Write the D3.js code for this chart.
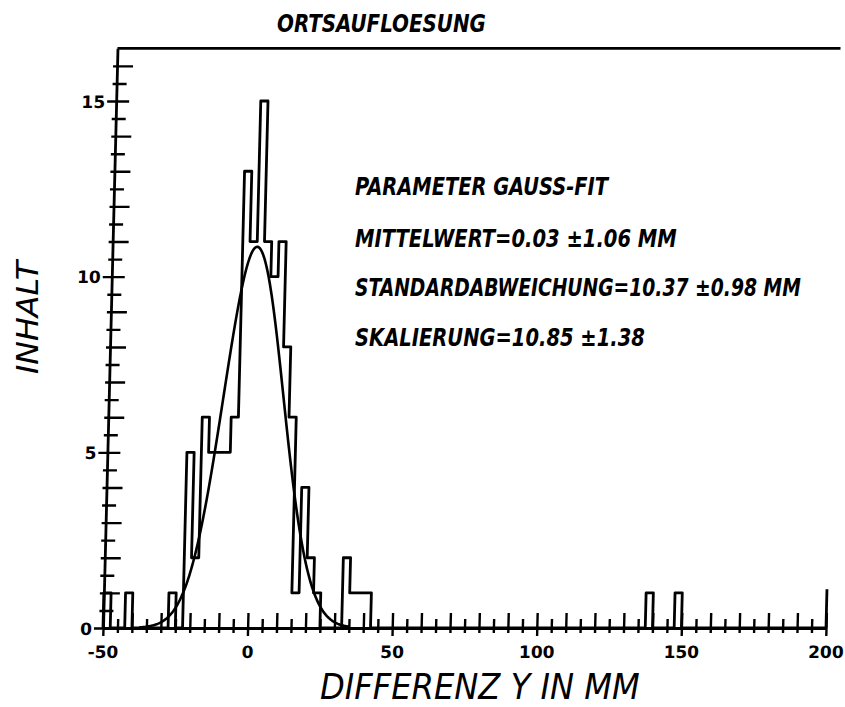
<!DOCTYPE html>
<html>
<head>
<meta charset="utf-8">
<script src="https://cdn.jsdelivr.net/npm/d3@7"></script>
<style>
    body { margin: 0; background: #fff; }
    svg { display: block; }
    .hand-text { font-family: 'DejaVu Sans Condensed', 'DejaVu Sans', sans-serif; font-weight: bold; font-style: italic; fill: #000; }
    .axis-title { font-weight: normal; }
    .tick-label { font-family: 'DejaVu Sans', sans-serif; font-weight: bold; font-size: 17px; fill: #000; }
</style>
</head>
<body>
<div id="chart"></div>
<script>
// histogram bins (left edge, entries), bin width 2.5 mm
const binLeft  = [-50, -42.5, -27.5, -22.5, -20, -17.5, -15, -12.5, -10, -7.5, -5, -2.5, 0, 2.5, 5, 7.5, 10, 12.5, 15, 17.5, 20, 22.5, 32.5, 35, 37.5, 40, 137.5, 147.5];
const binCount = [1, 1, 1, 5, 2, 6, 5, 5, 5, 6, 13, 11, 15, 11, 10, 11, 8, 6, 1, 4, 2, 1, 2, 1, 1, 1, 1, 1];
const binWidth = 2.5;

const xTickLabels = [-50, 0, 50, 100, 150, 200];
const yTickLabels = [0, 5, 10, 15];

// gauss fit
const fitMean = 0.03;
const fitSigma = 10.37;
const fitScale = 10.85;
const fitRange = [-37.5, 35];

const titleText = 'ORTSAUFLOESUNG';
const xTitle = 'DIFFERENZ Y IN MM';
const yTitle = 'INHALT';
const paramLines = ['PARAMETER GAUSS-FIT', 'MITTELWERT=0.03 \u00b11.06 MM', 'STANDARDABWEICHUNG=10.37 \u00b10.98 MM', 'SKALIERUNG=10.85 \u00b11.38'];

function GaussHisto() {
    let vis = this;
    vis.init();
}

GaussHisto.prototype.init = function() {
    let vis = this;
    vis.width = 845;
    vis.height = 707;
    vis.skew = 0.025; // scanned page is slightly sheared

    vis.svg = d3.select('#chart').append('svg')
        .attr('width', vis.width)
        .attr('height', vis.height);

    vis.x = d3.scaleLinear().domain([-50, 200]).range([103, 826]);
    vis.y = d3.scaleLinear().domain([0, 16.5]).range([628, 48.3]);

    let base = vis.y(0);
    vis.plot = vis.svg.append('g')
        .attr('transform', `matrix(1,0,${-vis.skew},1,${vis.skew * base},0)`);

    vis.drawAxes();
    vis.drawHisto();
    vis.drawFit();
    vis.drawText();
}

GaussHisto.prototype.drawAxes = function() {
    let vis = this;
    let lw = 2.8;

    // x axis
    let xAxis = d3.axisBottom(vis.x)
        .tickValues(d3.range(-50, 201, 5))
        .tickSizeOuter(0)
        .tickFormat(d => xTickLabels.includes(d) ? d : '');

    let gx = vis.plot.append('g')
        .attr('transform', `translate(0,${vis.y(0)})`)
        .call(xAxis);
    gx.select('.domain').attr('stroke-width', lw);
    gx.selectAll('.tick line')
        .attr('stroke-width', 2.4)
        .attr('y1', d => d % 50 === 0 ? 8 : 5)
        .attr('y2', d => d % 10 === 0 ? -15 : -9);
    gx.selectAll('.tick text')
        .attr('class', 'tick-label')
        .attr('y', 30)
        .attr('dy', null);

    // y axis
    let yAxis = d3.axisLeft(vis.y)
        .tickValues(d3.range(0, 16.5, 0.5))
        .tickSizeOuter(0)
        .tickFormat(d => yTickLabels.includes(d) ? d : '');

    let gy = vis.plot.append('g')
        .attr('transform', `translate(${vis.x(-50)},0)`)
        .call(yAxis);
    gy.select('.domain').attr('stroke-width', lw);
    gy.selectAll('.tick line')
        .attr('stroke-width', 2.4)
        .attr('x1', d => d % 5 === 0 ? -9 : -4)
        .attr('x2', d => d % 5 === 0 ? 13 : (d % 1 === 0 ? 16 : 10));
    gy.selectAll('.tick text')
        .attr('class', 'tick-label')
        .attr('x', -11)
        .attr('dy', '0.36em');

    // top frame line and short right edge
    vis.plot.append('line')
        .attr('x1', vis.x(-50)).attr('x2', vis.x(200))
        .attr('y1', vis.y(16.5)).attr('y2', vis.y(16.5))
        .attr('stroke', '#000').attr('stroke-width', lw);
    vis.plot.append('line')
        .attr('x1', vis.x(200)).attr('x2', vis.x(200))
        .attr('y1', vis.y(0)).attr('y2', vis.y(1.1))
        .attr('stroke', '#000').attr('stroke-width', lw);
}

GaussHisto.prototype.drawHisto = function() {
    let vis = this;

    // outline as a step line, gaps between bins go back to zero
    let pts = [[-50, 0]];
    let cur = -50;
    binLeft.forEach((left, i) => {
        if (left > cur) pts.push([cur, 0]);
        pts.push([left, binCount[i]]);
        cur = left + binWidth;
    });
    pts.push([cur, 0]);
    pts.push([200, 0]);

    let line = d3.line()
        .x(d => vis.x(d[0]))
        .y(d => vis.y(d[1]))
        .curve(d3.curveStepAfter);

    vis.plot.append('path')
        .datum(pts)
        .attr('d', line)
        .attr('fill', 'none')
        .attr('stroke', '#000')
        .attr('stroke-width', 2.8)
        .attr('stroke-linejoin', 'round');
}

GaussHisto.prototype.drawFit = function() {
    let vis = this;
    let xs = d3.range(fitRange[0], fitRange[1] + 0.01, 0.25);
    let gauss = v => fitScale * Math.exp(-((v - fitMean) ** 2) / (2 * fitSigma * fitSigma));

    vis.plot.append('path')
        .datum(xs)
        .attr('d', d3.line().x(d => vis.x(d)).y(d => vis.y(gauss(d))))
        .attr('fill', 'none')
        .attr('stroke', '#000')
        .attr('stroke-width', 2.6);
}

// squeeze a text horizontally to a given width (scan font is narrow)
function fitWidth(sel, x, y, w, rot) {
    let natural = sel.node().getComputedTextLength();
    let sx = w / natural;
    sel.attr('transform', `translate(${x},${y})` + (rot ? ` rotate(${rot})` : '') + ` scale(${sx},1)`);
}

GaussHisto.prototype.drawText = function() {
    let vis = this;

    let title = vis.svg.append('text')
        .attr('class', 'hand-text')
        .attr('font-size', 25)
        .text(titleText);
    fitWidth(title, 277, 32, 209);

    let xt = vis.svg.append('text')
        .attr('class', 'hand-text axis-title')
        .attr('font-size', 35)
        .text(xTitle);
    fitWidth(xt, 320, 699, 320);

    let yt = vis.svg.append('text')
        .attr('class', 'hand-text axis-title')
        .attr('font-size', 31)
        .text(yTitle);
    fitWidth(yt, 38, 374, 113, -90);

    let lineY = [195, 247, 296, 346];
    let lineLen = [253, 322, 446, 290];
    vis.svg.selectAll('.param-text')
        .data(paramLines)
        .enter()
        .append('text')
        .attr('class', 'hand-text param-text')
        .attr('font-size', 25)
        .text(d => d)
        .each(function(d, i) {
            fitWidth(d3.select(this), 355, lineY[i], lineLen[i]);
        });
}

new GaussHisto();
</script>
</body>
</html>
